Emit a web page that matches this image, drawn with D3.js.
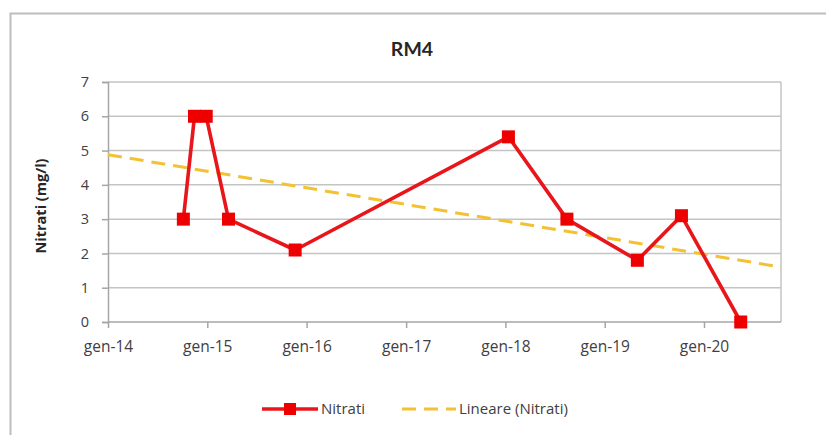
<!DOCTYPE html>
<html><head><meta charset="utf-8">
<script src="https://cdn.jsdelivr.net/npm/d3@7"></script>
<style>body{margin:0;background:#fff}svg{display:block;font-family:"Open Sans",Lato,sans-serif}</style>
</head><body><svg id="c" width="826" height="435"></svg>
<script>
const dates = ["2014-10-05","2014-11-15","2014-12-28","2015-03-20","2015-11-20","2018-01-12","2018-08-15","2019-05-01","2019-10-10","2020-05-15"];
const values = [3.0, 6.0, 6.0, 3.0, 2.1, 5.4, 3.0, 1.8, 3.1, 0.0];
const xTickLabels = ["gen-14","gen-15","gen-16","gen-17","gen-18","gen-19","gen-20"];
const yTicks = [0,1,2,3,4,5,6,7];
const seriesName = "Nitrati";
const trendName = "Lineare (Nitrati)";
const title = "RM4";
const yTitle = "Nitrati (mg/l)";

const svg = d3.select("#c");
const parse = d3.utcParse("%Y-%m-%d");
const data = dates.map((d,i)=>({t:parse(d), v:values[i]}));
const tickDates = xTickLabels.map((l,i)=>new Date(Date.UTC(2014+i,0,1)));
const FONT = "'Open Sans',Lato,sans-serif";

const L=108, R=781, T=82, B=322;
const x = d3.scaleUtc().domain([new Date(Date.UTC(2014,0,1)), new Date(Date.UTC(2020,9,10))]).range([L,R]);
const y = d3.scaleLinear().domain([0,7]).range([B,T]);

// outer border
svg.append("rect").attr("x",10.5).attr("y",13.5).attr("width",830).attr("height",440)
  .attr("fill","none").attr("stroke","#bdbdbd").attr("stroke-width",2);

// title
svg.append("text").attr("x",412).attr("y",56).attr("text-anchor","middle").attr("font-family","Lato,sans-serif")
  .attr("font-size",19.5).attr("font-weight","bold").attr("fill","#262626").text(title);

// gridlines
svg.append("g").selectAll("line").data(yTicks.filter(d=>d>0)).join("line")
  .attr("x1",L).attr("x2",R).attr("y1",d=>y(d)).attr("y2",d=>y(d))
  .attr("stroke","#c4c4c4").attr("stroke-width",1.5);
svg.append("line").attr("x1",R).attr("x2",R).attr("y1",T).attr("y2",B).attr("stroke","#c4c4c4").attr("stroke-width",1.5);

// y axis
const yAxis = svg.append("g").attr("transform",`translate(${L},0)`)
  .call(d3.axisLeft(y).tickValues(yTicks).tickSize(6).tickPadding(13).tickFormat(d3.format("d")));
yAxis.select(".domain").attr("stroke","#a6a6a6").attr("stroke-width",1.5);
yAxis.selectAll(".tick line").attr("stroke","#a6a6a6").attr("stroke-width",1.5);
yAxis.selectAll("text").attr("font-size",14.5).attr("fill","#404040").attr("font-family",FONT);

// x axis
const xAxis = svg.append("g").attr("transform",`translate(0,${B})`)
  .call(d3.axisBottom(x).tickValues(tickDates).tickSize(6).tickPadding(13).tickFormat((d,i)=>xTickLabels[i]));
xAxis.select(".domain").attr("stroke","#a6a6a6").attr("stroke-width",1.5).attr("d",`M${L},0H${R}`);
xAxis.selectAll(".tick line").attr("stroke","#a6a6a6").attr("stroke-width",1.5);
xAxis.selectAll("text").attr("font-size",15.5).attr("fill","#404040").attr("font-family",FONT);

// y title
svg.append("text").attr("transform","translate(46,206) rotate(-90)").attr("text-anchor","middle")
  .attr("font-size",14.5).attr("font-weight","bold").attr("fill","#262626").attr("font-family",FONT).text(yTitle);

// linear regression trend line
const t0 = x.domain()[0].getTime();
const yr = d => (d.getTime()-t0)/(365.25*864e5);
const mt = d3.mean(data,d=>yr(d.t)), mv = d3.mean(data,d=>d.v);
const slope = d3.sum(data,d=>(yr(d.t)-mt)*(d.v-mv))/d3.sum(data,d=>(yr(d.t)-mt)**2);
const icpt = mv - slope*mt;
svg.append("path").datum(x.domain().map(d=>({t:d, v:icpt+slope*yr(d)})))
  .attr("d", d3.line().x(d=>x(d.t)).y(d=>y(d.v)))
  .attr("fill","none").attr("stroke","#f2c232").attr("stroke-width",3).attr("stroke-dasharray","14,8");

// series line
svg.append("path").datum(data).attr("d", d3.line().x(d=>x(d.t)).y(d=>y(d.v)))
  .attr("fill","none").attr("stroke","#e8161b").attr("stroke-width",3.6).attr("stroke-linejoin","round");
svg.append("g").selectAll("rect").data(data).join("rect")
  .attr("x",d=>x(d.t)-6.5).attr("y",d=>y(d.v)-6.5).attr("width",13).attr("height",13).attr("fill","#ee0000");

// legend
const lg = svg.append("g");
lg.append("line").attr("x1",262).attr("x2",318).attr("y1",409).attr("y2",409).attr("stroke","#e8161b").attr("stroke-width",3.4);
lg.append("rect").attr("x",284).attr("y",403).attr("width",12).attr("height",12).attr("fill","#ee0000");
lg.append("text").attr("x",321).attr("y",414).attr("font-size",15).attr("fill","#404040").attr("font-family",FONT).text(seriesName);
lg.append("line").attr("x1",402).attr("x2",456).attr("y1",409).attr("y2",409).attr("stroke","#f2c232").attr("stroke-width",3).attr("stroke-dasharray","14,8");
lg.append("text").attr("x",459).attr("y",414).attr("font-size",15).attr("fill","#404040").attr("font-family",FONT).text(trendName);
</script></body></html>
